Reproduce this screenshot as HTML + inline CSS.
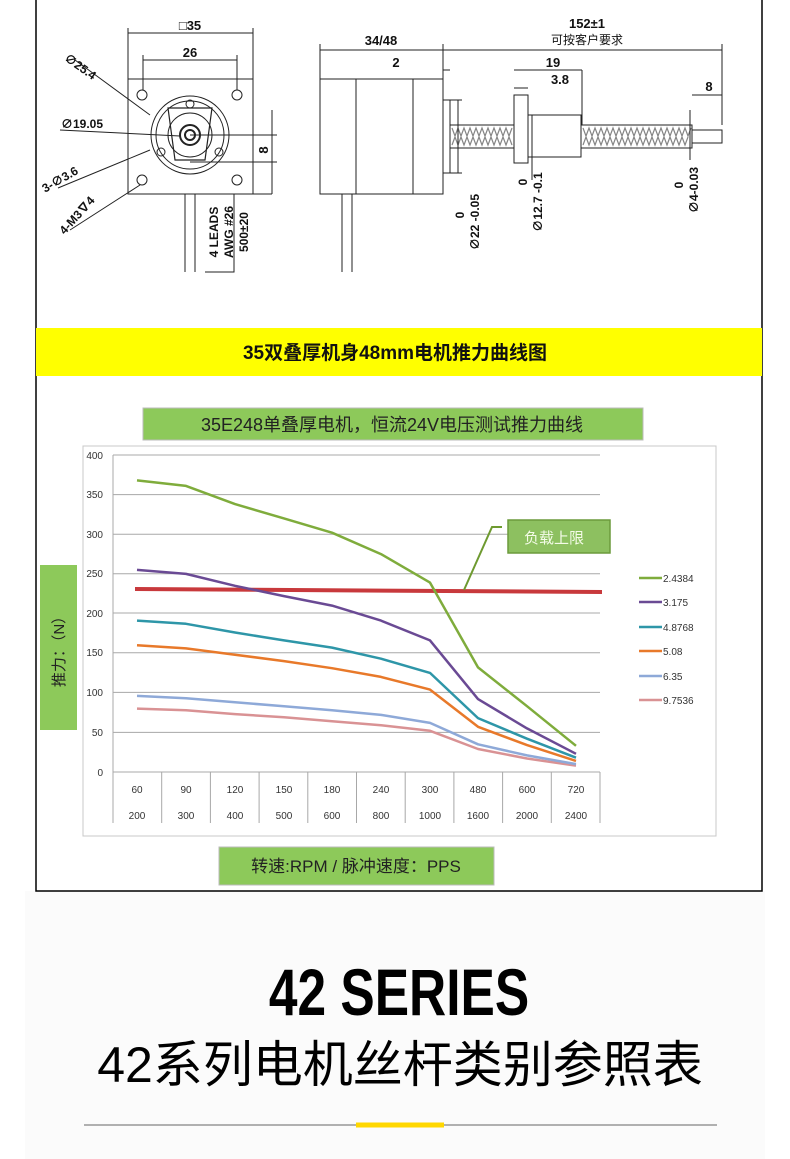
<!DOCTYPE html>
<html><head><meta charset="utf-8"><style>
html,body{margin:0;padding:0;background:#fff;}
svg{display:block}
text{font-family:"Liberation Sans","Noto Sans CJK SC",sans-serif;}
</style></head><body>
<svg width="790" height="1159" viewBox="0 0 790 1159" xmlns="http://www.w3.org/2000/svg">
<rect width="790" height="1159" fill="#fff"/>
<rect x="25" y="891" width="740" height="268" fill="#fbfbfb"/>
<path d="M36 0 V891 H762 V0" fill="none" stroke="#000" stroke-width="1.5"/>

<g stroke="#222" stroke-width="1" fill="none">
 <rect x="128" y="79" width="125" height="115"/>
 <circle cx="190" cy="135" r="39"/>
 <circle cx="190" cy="135" r="34"/>
 <path d="M168 108 L212 108 L205 160 L175 160 Z" stroke-width="1.2"/>
 <circle cx="190" cy="135" r="22"/>
 <circle cx="190" cy="135" r="10" stroke-width="2"/>
 <circle cx="190" cy="135" r="5" stroke-width="2"/>
 <circle cx="142" cy="95" r="5"/><circle cx="237" cy="95" r="5"/>
 <circle cx="142" cy="180" r="5"/><circle cx="237" cy="180" r="5"/>
 <circle cx="190" cy="104" r="4"/><circle cx="161" cy="152" r="4"/><circle cx="219" cy="152" r="4"/>
 <path d="M185 194V272M195 194V272"/>
 <path d="M128 79V28M253 79V28M128 33H253M143 90V55M237 90V55M143 60H237"/>
 <path d="M190 135H277M190 162H277M272 110V194"/>
 <path d="M195 194H272M234 194V272H205"/>
 <path d="M75 60L150 115M60 130L180 136M58 188L150 150M70 230L140 185"/>
 <rect x="320" y="79" width="123" height="115"/>
 <path d="M356 79V194M413 79V194"/>
 <rect x="443" y="100" width="7" height="73"/>
 <rect x="450" y="125" width="64" height="23"/>
 <rect x="514" y="95" width="14" height="68"/>
 <rect x="528" y="115" width="53" height="42"/>
 <rect x="581" y="125" width="111" height="23"/>
 <rect x="692" y="130" width="30" height="13"/>
 <path d="M342 194V272M352 194V272"/>
 <path d="M320 79V44M443 79V44M722 125V44M320 50H722M443 70H450M514 70H582M514 88H528M692 95H722M582 70V125"/>
 <path d="M450 100H462M450 173H462M458 100V173M528 115H535M532 115V180M690 110V160"/>
</g>
<g stroke="#222" stroke-width="1.2" fill="none" opacity="0.55">
 <path d="M452 128 l3 8 l3 -8 l3 8 l3 -8 l3 8 l3 -8 l3 8 l3 -8 l3 8 l3 -8 l3 8 l3 -8 l3 8 l3 -8 l3 8 l3 -8 l3 8 l3 -8 l3 8 l3 -8"/>
 <path d="M452 145 l3 -8 l3 8 l3 -8 l3 8 l3 -8 l3 8 l3 -8 l3 8 l3 -8 l3 8 l3 -8 l3 8 l3 -8 l3 8 l3 -8 l3 8 l3 -8 l3 8 l3 -8 l3 8"/>
 <path d="M583 128 l3 8 l3 -8 l3 8 l3 -8 l3 8 l3 -8 l3 8 l3 -8 l3 8 l3 -8 l3 8 l3 -8 l3 8 l3 -8 l3 8 l3 -8 l3 8 l3 -8 l3 8 l3 -8 l3 8 l3 -8 l3 8 l3 -8 l3 8 l3 -8 l3 8 l3 -8 l3 8 l3 -8 l3 8 l3 -8 l3 8 l3 -8 l3 8 l3 -8"/>
 <path d="M583 145 l3 -8 l3 8 l3 -8 l3 8 l3 -8 l3 8 l3 -8 l3 8 l3 -8 l3 8 l3 -8 l3 8 l3 -8 l3 8 l3 -8 l3 8 l3 -8 l3 8 l3 -8 l3 8 l3 -8 l3 8 l3 -8 l3 8 l3 -8 l3 8 l3 -8 l3 8 l3 -8 l3 8 l3 -8 l3 8 l3 -8 l3 8 l3 -8"/>
</g>
<g font-size="13" font-weight="bold" fill="#111" text-anchor="middle">
 <text x="190" y="30">□35</text>
 <text x="190" y="57">26</text>
 <text x="381" y="45">34/48</text>
 <text x="396" y="67">2</text>
 <text x="587" y="28">152±1</text>
 <text x="587" y="44" font-weight="normal" font-size="12">可按客户要求</text>
 <text x="553" y="67">19</text>
 <text x="560" y="84">3.8</text>
 <text x="709" y="91">8</text>
 <text transform="translate(268,150) rotate(-90)">8</text>
 <text transform="translate(78,70) rotate(35)" font-size="12">∅25.4</text>
 <text x="82" y="128" font-size="12">∅19.05</text>
 <text transform="translate(62,183) rotate(-30)" font-size="12">3-∅3.6</text>
 <text transform="translate(80,218) rotate(-48)" font-size="12">4-M3∇4</text>
 <text transform="translate(218,232) rotate(-90)" font-size="12">4 LEADS</text>
 <text transform="translate(233,232) rotate(-90)" font-size="12">AWG #26</text>
 <text transform="translate(248,232) rotate(-90)" font-size="12">500±20</text>
 <text transform="translate(464,215) rotate(-90)" font-size="12">0</text>
 <text transform="translate(479,222) rotate(-90)" font-size="12">∅22 -0.05</text>
 <text transform="translate(527,182) rotate(-90)" font-size="12">0</text>
 <text transform="translate(542,202) rotate(-90)" font-size="12">∅12.7 -0.1</text>
 <text transform="translate(683,185) rotate(-90)" font-size="12">0</text>
 <text transform="translate(698,190) rotate(-90)" font-size="12">∅4-0.03</text>
</g>

<rect x="36" y="328" width="726" height="48" fill="#ffff00"/>
<text x="395" y="359" text-anchor="middle" font-size="19" font-weight="bold" fill="#111">35双叠厚机身48mm电机推力曲线图</text>

<rect x="143" y="408" width="500" height="32" fill="#8dc95a" stroke="#bbb"/>
<text x="392" y="431" text-anchor="middle" font-size="18" fill="#222">35E248单叠厚电机，恒流24V电压测试推力曲线</text>
<rect x="83" y="446" width="633" height="390" fill="#fff" stroke="#c8c8c8"/>
<g stroke="#a8a8a8" stroke-width="1">
 <path d="M113 455H600M113 494.6H600M113 534.2H600M113 573.8H600M113 613H600M113 652.8H600M113 692.4H600M113 732.4H600M113 772H600"/>
 <path d="M113 455V823M161.7 772V823M210.4 772V823M259.1 772V823M307.8 772V823M356.5 772V823M405.2 772V823M453.9 772V823M502.6 772V823M551.3 772V823M600 772V823"/>
</g>
<g font-size="10" fill="#333" text-anchor="end">
 <text x="103" y="459">400</text><text x="103" y="498">350</text><text x="103" y="538">300</text>
 <text x="103" y="577">250</text><text x="103" y="617">200</text><text x="103" y="656">150</text>
 <text x="103" y="696">100</text><text x="103" y="736">50</text><text x="103" y="776">0</text>
</g>
<g font-size="10" fill="#333" text-anchor="middle">
 <text x="137" y="793">60</text><text x="186" y="793">90</text><text x="235" y="793">120</text><text x="284" y="793">150</text><text x="332" y="793">180</text><text x="381" y="793">240</text><text x="430" y="793">300</text><text x="478" y="793">480</text><text x="527" y="793">600</text><text x="576" y="793">720</text>
 <text x="137" y="819">200</text><text x="186" y="819">300</text><text x="235" y="819">400</text><text x="284" y="819">500</text><text x="332" y="819">600</text><text x="381" y="819">800</text><text x="430" y="819">1000</text><text x="478" y="819">1600</text><text x="527" y="819">2000</text><text x="576" y="819">2400</text>
</g>
<line x1="135" y1="589" x2="602" y2="592" stroke="#c8393c" stroke-width="4"/>
<g fill="none" stroke-width="2.5" stroke-linejoin="round">
 <polyline stroke="#d99294" points="137,708.6 186,710.2 235,714.1 284,717.3 332,721.3 381,725.2 430,730.8 478,749 527,758.5 576,765.7"/>
 <polyline stroke="#8ea9d8" points="137,695.9 186,698.3 235,702.3 284,706.2 332,710.2 381,714.9 430,722.9 478,744.3 527,755.4 576,764.1"/>
 <polyline stroke="#e8792a" points="137,645.2 186,648.4 235,654.7 284,661.1 332,668.2 381,676.9 430,689.6 478,726.8 527,745.1 576,760.9"/>
 <polyline stroke="#2e96a8" points="137,620.6 186,623.8 235,632.5 284,640.4 332,647.6 381,658.7 430,672.9 478,718.1 527,738.7 576,757.7"/>
 <polyline stroke="#6a4a94" points="137,569.9 186,573.9 235,585.8 284,596.1 332,605.6 381,620.6 430,640.4 478,699.1 527,728.4 576,753.8"/>
 <polyline stroke="#7fac3c" points="137,480.4 186,485.9 235,504.1 284,518.4 332,532.7 381,554.1 430,582.6 478,667.4 527,706.2 576,745.8"/>
</g>
<polyline points="464,590 492,527 502,527" fill="none" stroke="#6e9a30" stroke-width="2"/>
<rect x="508" y="520" width="102" height="33" fill="#8dc060" stroke="#6c9a3c" stroke-width="1.5"/>
<text x="554" y="543" text-anchor="middle" font-size="15" fill="#f4fbe8">负载上限</text>
<g stroke-width="2.5">
 <line x1="639" y1="578" x2="662" y2="578" stroke="#7fac3c"/>
 <line x1="639" y1="602" x2="662" y2="602" stroke="#6a4a94"/>
 <line x1="639" y1="627" x2="662" y2="627" stroke="#2e96a8"/>
 <line x1="639" y1="651" x2="662" y2="651" stroke="#e8792a"/>
 <line x1="639" y1="676" x2="662" y2="676" stroke="#8ea9d8"/>
 <line x1="639" y1="700" x2="662" y2="700" stroke="#d99294"/>
</g>
<g font-size="10" fill="#333">
 <text x="663" y="582">2.4384</text><text x="663" y="606">3.175</text><text x="663" y="631">4.8768</text>
 <text x="663" y="655">5.08</text><text x="663" y="680">6.35</text><text x="663" y="704">9.7536</text>
</g>
<rect x="40" y="565" width="37" height="165" fill="#8dc95a"/>
<text transform="translate(64,648) rotate(-90)" text-anchor="middle" font-size="15" fill="#222">推力：（N）</text>
<rect x="219" y="847" width="275" height="38" fill="#8dc95a" stroke="#bbb"/>
<text x="356" y="872" text-anchor="middle" font-size="17" fill="#222">转速:RPM / 脉冲速度：PPS</text>

<text x="399" y="1015" text-anchor="middle" font-size="66" font-weight="bold" fill="#000" transform="translate(399,0) scale(0.78,1) translate(-399,0)" style="font-family:'Liberation Sans Narrow','Liberation Sans',sans-serif">42 SERIES</text>
<text x="400" y="1082" text-anchor="middle" font-size="50" fill="#000">42系列电机丝杆类别参照表</text>
<line x1="84" y1="1125" x2="717" y2="1125" stroke="#b0b0b0" stroke-width="2"/>
<line x1="356" y1="1125" x2="444" y2="1125" stroke="#ffd700" stroke-width="5"/>
</svg>
</body></html>
